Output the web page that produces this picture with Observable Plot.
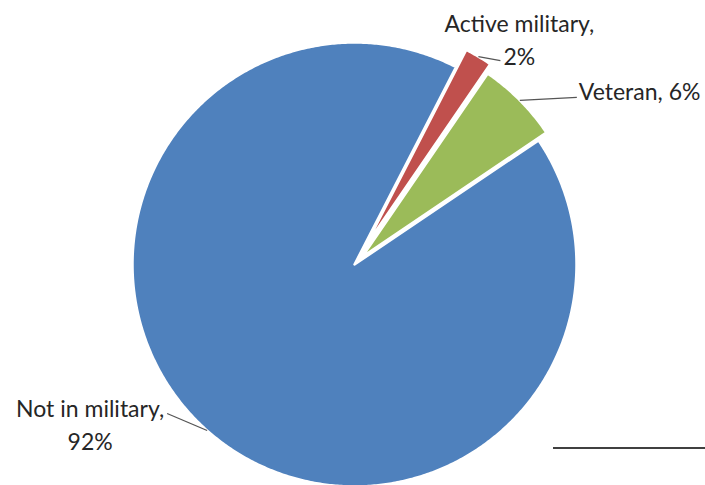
<!DOCTYPE html>
<html><head><meta charset="utf-8">
<script src="https://cdn.jsdelivr.net/npm/d3@7"></script>
<script src="https://cdn.jsdelivr.net/npm/@observablehq/plot@0.6"></script>
<style>
body{margin:0;background:#fff;}
#chart{position:relative;width:705px;height:485px;overflow:hidden;}
#chart .rule{position:absolute;left:553px;top:447px;width:152px;height:2px;background:#404040;}
</style>
</head><body><div id="chart"></div>
<script>
// Data
const categories = ["Active military", "Veteran", "Not in military"];
const values = [2, 6, 92];
const labels = ["Active military,\n2%", "Veteran, 6%", "Not in military,\n92%"];
const colors = ["#C0504D", "#9BBB59", "#4F81BD"];

// Layout / style
const R = 222;
const explode = [20, 11, 0];
const startDeg = 27.2;
const leaderOffset = [[22, -4], [57, 3], [-40, 17]];     // data units (y up)
const textOffset = [[19, 22.5], [2, 7.5], [-77, -9]];    // from leader end (y up)
const textAnchor = ["middle", "start", "middle"];
const fontSize = 23;

const start = startDeg * Math.PI / 180;
const arcs = d3.pie().sort(null).value(d => d).startAngle(start).endAngle(start + 2 * Math.PI)(values);

const slices = arcs.map((a, i) => {
  const mid = (a.startAngle + a.endAngle) / 2;
  const ox = explode[i] * Math.sin(mid), oy = explode[i] * Math.cos(mid);
  const pts = [{x: ox, y: oy}];
  const n = Math.max(4, Math.ceil((a.endAngle - a.startAngle) / (Math.PI / 360)));
  for (let k = 0; k <= n; k++) {
    const t = a.startAngle + (a.endAngle - a.startAngle) * k / n;
    pts.push({x: ox + R * Math.sin(t), y: oy + R * Math.cos(t)});
  }
  const anchor = {x: ox + R * Math.sin(mid), y: oy + R * Math.cos(mid)};
  const end = {x: anchor.x + leaderOffset[i][0], y: anchor.y + leaderOffset[i][1]};
  const txt = {x: end.x + textOffset[i][0], y: end.y + textOffset[i][1], label: labels[i], category: categories[i]};
  return {pts, anchor, end, txt, color: colors[i]};
});

const marks = [];
slices.forEach(s => {
  marks.push(Plot.line(s.pts, {x: "x", y: "y", curve: "linear-closed", fill: s.color, stroke: "white", strokeWidth: 2.5, strokeLinejoin: "round"}));
});
slices.forEach((s, i) => {
  marks.push(Plot.link([{x1: s.anchor.x, y1: s.anchor.y, x2: s.end.x, y2: s.end.y}], {x1: "x1", y1: "y1", x2: "x2", y2: "y2", stroke: "#555", strokeWidth: 1.3}));
  marks.push(Plot.text([s.txt], {x: "x", y: "y", text: "label", textAnchor: textAnchor[i], lineAnchor: "middle", lineHeight: 33 / fontSize, fill: "#262626", fontSize}));
});

const plot = Plot.plot({
  width: 705, height: 485,
  margin: 0,
  x: {domain: [-354, 351], range: [0, 705], axis: null},
  y: {domain: [-221, 264], range: [485, 0], axis: null},
  style: {fontFamily: "Lato, 'Open Sans', sans-serif", background: "white", overflow: "visible"},
  marks
});
const chart = document.getElementById("chart");
chart.appendChild(plot);
const rule = document.createElement("div");
rule.className = "rule";
chart.appendChild(rule);
</script>
</body></html>
